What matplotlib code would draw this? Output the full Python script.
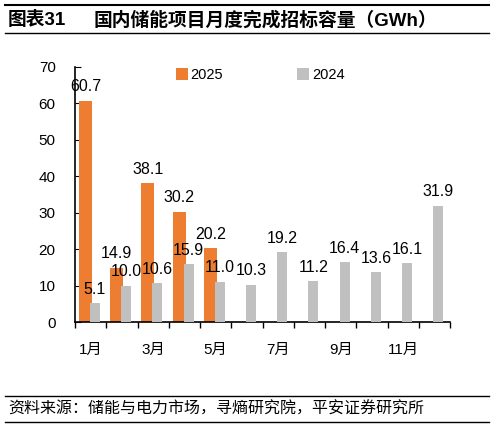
import matplotlib
matplotlib.use("Agg")
import matplotlib.pyplot as plt
import numpy as np
from matplotlib.lines import Line2D

plt.rcParams['font.family'] = ['Liberation Sans', 'Noto Sans CJK SC', 'DejaVu Sans']

# ----------------- data -----------------
months = ["1月", "2月", "3月", "4月", "5月", "6月", "7月", "8月", "9月", "10月", "11月", "12月"]
vals_2025 = [60.7, 14.9, 38.1, 30.2, 20.2]
vals_2024 = [5.1, 10.0, 10.6, 15.9, 11.0, 10.3, 19.2, 11.2, 16.4, 13.6, 16.1, 31.9]
shown_ticks = ["1月", "", "3月", "", "5月", "", "7月", "", "9月", "", "11月", ""]

C25 = "#ED7D31"
C24 = "#C0C0C0"

fig = plt.figure(figsize=(4.94, 4.26), dpi=100)
ax = fig.add_axes([0.152, 0.244, 0.759, 0.599])

x = np.arange(len(months))
x25 = np.arange(len(vals_2025))
ax.bar(x25 - 0.17, vals_2025, width=0.42, color=C25, label="2025", zorder=2)
ax.bar(x + 0.13, vals_2024, width=0.32, color=C24, label="2024", zorder=3)

# value labels
for xi, v in zip(x25, vals_2025):
    ax.text(xi - 0.17, v + 1.8, f"{v:.1f}", ha="center", va="bottom", fontsize=11.5, zorder=5)
for xi, v in zip(x, vals_2024):
    ax.text(xi + 0.13, v + 1.8, f"{v:.1f}", ha="center", va="bottom", fontsize=11.5, zorder=5)

ax.set_xlim(-0.5, 11.5)
ax.set_ylim(0, 70)
ax.set_yticks(np.arange(0, 71, 10))
ax.set_xticks(x)
ax.set_xticklabels(shown_ticks)
ax.set_xticks(np.arange(-0.5, 11.6, 1), minor=True)
ax.tick_params(axis="x", which="major", length=0, pad=15, labelsize=11)
ax.tick_params(axis="x", which="minor", length=4, direction="out", width=1)
ax.tick_params(axis="y", length=4, direction="in", labelsize=11, pad=14)
for s in ["top", "right"]:
    ax.spines[s].set_visible(False)
ax.spines["left"].set_linewidth(1.2)
ax.spines["bottom"].set_linewidth(1.2)

leg = ax.legend(loc="upper center", bbox_to_anchor=(0.494, 1.047), ncol=2, frameon=False,
                fontsize=10.5, handlelength=0.8, handleheight=0.8, handletextpad=0.2,
                columnspacing=5.1)

# title and frame lines
fig.add_artist(Line2D([0.01, 0.99], [0.988, 0.988], color="black", lw=1.5))
fig.add_artist(Line2D([0.01, 0.99], [0.922, 0.922], color="black", lw=1.0))
fig.text(0.016, 0.953, "图表31", fontsize=13.5, fontweight="bold", va="center")
fig.text(0.19, 0.953, "国内储能项目月度完成招标容量（GWh）", fontsize=13.5, fontweight="bold", va="center")

fig.add_artist(Line2D([0.01, 0.99], [0.071, 0.071], color="black", lw=1.0))
fig.add_artist(Line2D([0.01, 0.99], [0.009, 0.009], color="black", lw=1.0))
fig.text(0.016, 0.040, "资料来源：储能与电力市场，寻熵研究院，平安证券研究所", fontsize=11.5,
         style="italic", va="center")

fig.savefig("out.png", dpi=100)
